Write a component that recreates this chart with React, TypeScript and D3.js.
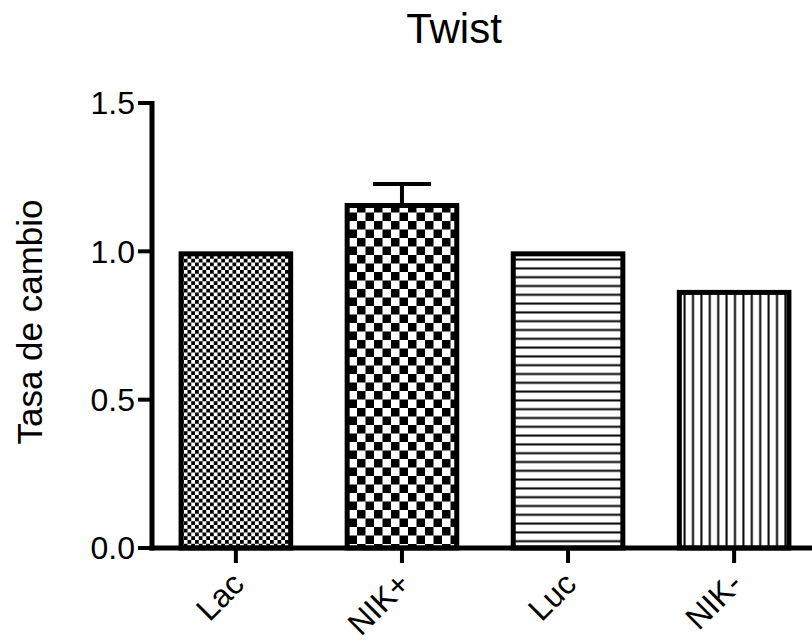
import React from "react";
import * as d3 from "d3";

const categories = ["Lac", "NIK+", "Luc", "NIK-"];
const values = [1.0, 1.163, 1.0, 0.87];
const errors = [0, 0.064, 0, 0];
const yTicks = [0, 0.5, 1.0, 1.5];
const patternIds = ["fineChecker", "coarseChecker", "hLines", "vLines"];
const title = "Twist";
const yLabel = "Tasa de cambio";

const W = 812;
const H = 641;
const FONT = "'Liberation Sans', Arial, Helvetica, sans-serif";

export default function App() {
  const axisX = 152;
  const axisY = 548;
  const y = d3.scaleLinear().domain([0, 1.5]).range([axisY, 103]);
  const x = d3
    .scaleBand<string>()
    .domain(categories)
    .range([axisX, 818])
    .paddingInner(0.31)
    .paddingOuter(0.16);
  const bw = x.bandwidth();
  const sw = 5;
  const fc = 3.75;
  const cc = 8.5;

  return (
    <svg
      width={W}
      height={H}
      style={{ position: "absolute", left: 0, top: 0, background: "#fff" }}
      fontFamily={FONT}
    >
      <defs>
        <pattern id="fineChecker" patternUnits="userSpaceOnUse" width={fc * 2} height={fc * 2}>
          <rect width={fc * 2} height={fc * 2} fill="#fff" />
          <rect width={fc} height={fc} fill="#000" />
          <rect x={fc} y={fc} width={fc} height={fc} fill="#000" />
        </pattern>
        <pattern id="coarseChecker" patternUnits="userSpaceOnUse" width={cc * 2} height={cc * 2}>
          <rect width={cc * 2} height={cc * 2} fill="#fff" />
          <rect width={cc} height={cc} fill="#000" />
          <rect x={cc} y={cc} width={cc} height={cc} fill="#000" />
        </pattern>
        <pattern id="hLines" patternUnits="userSpaceOnUse" width={10} height={8.8}>
          <rect width={10} height={8.8} fill="#fff" />
          <rect y={3.4} width={10} height={2} fill="#000" />
        </pattern>
        <pattern id="vLines" patternUnits="userSpaceOnUse" width={8.4} height={10}>
          <rect width={8.4} height={10} fill="#fff" />
          <rect x={3.2} width={2} height={10} fill="#000" />
        </pattern>
      </defs>

      <rect width={W} height={H} fill="#fff" />

      <text x={454} y={43} fontSize={42} textAnchor="middle" fill="#000">
        {title}
      </text>

      <text
        transform={`translate(42, 322) rotate(-90)`}
        fontSize={35}
        textAnchor="middle"
        fill="#000"
      >
        {yLabel}
      </text>

      {categories.map((c, i) => {
        const x0 = x(c)!;
        const top = y(values[i]);
        return (
          <g key={c}>
            <rect
              x={x0 + sw / 2}
              y={top + sw / 2}
              width={bw - sw}
              height={axisY - top - sw / 2}
              fill={`url(#${patternIds[i]})`}
              stroke="#000"
              strokeWidth={sw}
            />
            {errors[i] > 0 && (
              <g stroke="#000" strokeWidth={4}>
                <line x1={x0 + bw / 2} x2={x0 + bw / 2} y1={top} y2={y(values[i] + errors[i])} />
                <line
                  x1={x0 + bw / 2 - 29}
                  x2={x0 + bw / 2 + 29}
                  y1={y(values[i] + errors[i])}
                  y2={y(values[i] + errors[i])}
                />
              </g>
            )}
          </g>
        );
      })}

      {/* Y axis */}
      <line x1={axisX} x2={axisX} y1={y(1.5) - 2} y2={axisY + 2.5} stroke="#000" strokeWidth={5} />
      {yTicks.map((t) => (
        <g key={t}>
          <line x1={axisX - 14} x2={axisX} y1={y(t)} y2={y(t)} stroke="#000" strokeWidth={4} />
          <text
            x={axisX - 17}
            y={y(t)}
            dy="0.35em"
            fontSize={32}
            textAnchor="end"
            fill="#000"
          >
            {t.toFixed(1)}
          </text>
        </g>
      ))}

      {/* X axis */}
      <line x1={axisX - 2.5} x2={W + 5} y1={axisY} y2={axisY} stroke="#000" strokeWidth={5} />
      {categories.map((c) => {
        const cx = x(c)! + bw / 2;
        return (
          <g key={c}>
            <line x1={cx} x2={cx} y1={axisY} y2={axisY + 15} stroke="#000" strokeWidth={4} />
            <text
              transform={`translate(${cx + 10}, ${axisY + 38}) rotate(-45)`}
              fontSize={32}
              textAnchor="end"
              fill="#000"
            >
              {c}
            </text>
          </g>
        );
      })}
    </svg>
  );
}
